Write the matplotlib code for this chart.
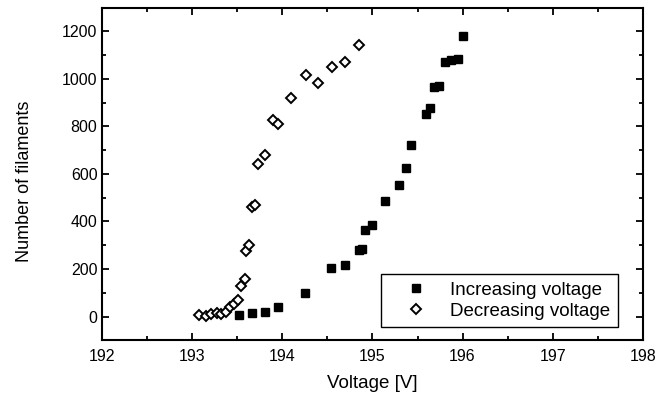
import numpy as np
import matplotlib.pyplot as plt
from matplotlib.ticker import MultipleLocator

plt.rcParams['font.family'] = ['Liberation Sans', 'DejaVu Sans']

# increasing voltage (filled squares)
v_inc = [193.52, 193.66, 193.81, 193.95, 194.25, 194.54, 194.69, 194.85, 194.88,
         194.92, 195.00, 195.14, 195.29, 195.37, 195.43, 195.59, 195.64, 195.68,
         195.74, 195.80, 195.87, 195.95, 196.00]
n_inc = [7, 14, 18, 42, 99, 204, 215, 279, 286,
         366, 387, 488, 553, 623, 720, 851, 879, 964,
         970, 1069, 1079, 1082, 1181]

# decreasing voltage (open diamonds)
v_dec = [193.07, 193.15, 193.21, 193.27, 193.32, 193.37, 193.42, 193.46, 193.51,
         193.54, 193.58, 193.60, 193.63, 193.66, 193.70, 193.73, 193.81, 193.89,
         193.95, 194.10, 194.26, 194.39, 194.55, 194.69, 194.85]
n_dec = [7, 4, 9, 13, 10, 18, 42, 54, 68,
         130, 158, 274, 300, 462, 471, 640, 678, 826,
         812, 918, 1017, 983, 1048, 1073, 1142]

fig = plt.figure(figsize=(6.68, 3.98), dpi=100)
ax = fig.add_axes([0.1531, 0.145, 0.809, 0.836])

ax.plot(v_inc, n_inc, 's', color='black', ms=5.8, label='Increasing voltage')
ax.plot(v_dec, n_dec, 'D', mfc='white', mec='black', mew=1.4, ms=4.6,
        label='Decreasing voltage')

ax.set_xlim(192, 198)
ax.set_ylim(-100, 1300)
ax.xaxis.set_major_locator(MultipleLocator(1))
ax.xaxis.set_minor_locator(MultipleLocator(0.5))
ax.yaxis.set_major_locator(MultipleLocator(200))
ax.yaxis.set_minor_locator(MultipleLocator(100))
ax.tick_params(which='both', direction='in', top=True, right=True,
               labeltop=False, labelright=False, width=1.3, labelsize=11.5)
ax.tick_params(which='major', length=5)
ax.tick_params(which='minor', length=3)
ax.tick_params(axis='x', pad=6)
for s in ax.spines.values():
    s.set_linewidth(1.5)

ax.set_xlabel('Voltage [V]', fontsize=13.5, labelpad=8)
ax.set_ylabel('Number of filaments', fontsize=13)
ax.yaxis.set_label_coords(-0.128, 0.477)

leg = ax.legend(loc='lower right', bbox_to_anchor=(0.954, 0.039), fontsize=13.5,
                fancybox=False, edgecolor='black', framealpha=1,
                handletextpad=0.3, borderaxespad=0, handlelength=3.0,
                labelspacing=0.2, borderpad=0.4)
leg.get_frame().set_linewidth(1.0)

plt.savefig('out.png')
